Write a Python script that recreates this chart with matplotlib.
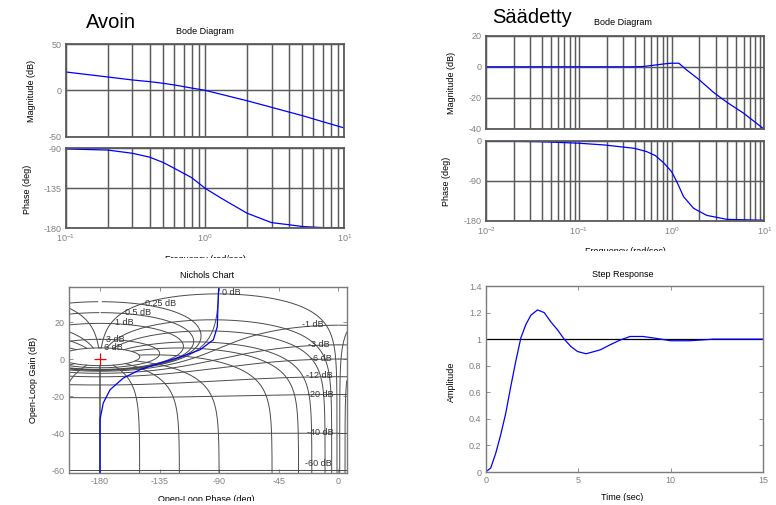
import numpy as np
import matplotlib
matplotlib.use('Agg')
import matplotlib.pyplot as plt
from matplotlib.patches import Rectangle
from matplotlib.ticker import NullFormatter

plt.rcParams['font.family'] = ['Liberation Sans', 'DejaVu Sans']
plt.rcParams['axes.unicode_minus'] = False

# --- open loop bode ---
w_open = [0.1, 0.2, 0.3, 0.4, 0.5, 0.6, 0.8, 1.0, 2.0, 3.0, 4.0, 5.0, 7.0, 10.0]
mag_open = [19.8, 14.4, 11.2, 9.4, 7.6, 5.8, 2.5, 0.0, -11.2, -18.3, -23.4, -27.3, -33.8, -40.6]
w_open_ph = [0.1, 0.2, 0.3, 0.4, 0.5, 0.6, 0.8, 1.0, 1.3, 2.0, 3.0, 4.0, 5.0, 7.0, 10.0]
phase_open = [-90.7, -92, -95.6, -100, -106, -112.5, -123, -135, -146, -163, -173.6, -176, -178, -179.2, -179.6]

# --- closed loop bode ---
w_cl = [0.01, 0.1, 0.4, 0.5, 0.7, 0.9, 1.0, 1.2, 1.46, 1.95, 2.83, 3.95, 5.97, 10.0]
mag_cl = [0, 0, 0, 0.2, 1.3, 2.1, 2.3, 2.3, -2.1, -7.9, -16.4, -22.8, -29.8, -40.2]
w_cl_ph = [0.01, 0.038, 0.1, 0.19, 0.4, 0.54, 0.67, 0.82, 1.0, 1.14, 1.35, 1.73, 2.4, 3.95, 10.0]
phase_cl = [0, -1.5, -5, -9, -16.6, -24, -33, -49, -69, -92, -126, -152, -168, -177, -179]

# --- nichols curve ---
nich_phase = [-180, -180, -177.5, -172.4, -162.4, -149.8, -134.7, -119.6, -104.5, -94.4, -91.4, -90.6, -90.3]
nich_gain = [-61, -32.6, -23.6, -16.5, -10.2, -5.7, -2.1, 1.1, 5.0, 10.4, 17.5, 35.4, 39]

# nichols grid levels
ngrid_gain_db = [6, 3, 1, 0.5, 0.25, 0, -1, -3, -6, -12, -20, -40, -60]
ngrid_phase = [1, 5, 10, 20, 30, 50, 90, 120, 150, 180]
ngrid_labels = ['6 dB', '3 dB', '1 dB', '0.5 dB', '0.25 dB', '0 dB', '-1 dB',
                '-3 dB', '-6 dB', '-12 dB', '-20 dB', '-40 dB', '-60 dB']

# --- step response ---
t_step = [0, 0.27, 0.54, 0.81, 1.08, 1.35, 1.62, 1.9, 2.17, 2.44, 2.8, 3.16, 3.52, 3.88, 4.24,
          4.6, 4.96, 5.42, 5.87, 6.2, 6.7, 7.26, 7.8, 8.5, 9.2, 10, 11, 11.8, 12.3, 15]
y_step = [0, 0.03, 0.14, 0.28, 0.44, 0.64, 0.83, 1.01, 1.11, 1.18, 1.22, 1.20, 1.13, 1.07, 1.0,
          0.945, 0.907, 0.89, 0.907, 0.92, 0.956, 0.993, 1.02, 1.02, 1.006, 0.988, 0.988, 0.995, 1.0, 1.0]
step_ticks = [0, 0.2, 0.4, 0.6, 0.8, 1.0, 1.2, 1.4]
step_ticklabels = ['0', '0.2', '0.4', '0.6', '0.8', '1', '1.2', '1.4']

W, H = 776, 505
fig = plt.figure(figsize=(W / 100, H / 100), dpi=100)

GRID = '#5a5a5a'
TICK = '#808080'
FS = 6.5


def box(l, t, r, b):
    # pixel box -> figure fraction
    return [l / W, 1 - b / H, (r - l) / W, (b - t) / H]


def ftext(x, y, s, **kw):
    return fig.text(x / W, 1 - y / H, s, **kw)


def blank(l, t, r, b):
    # white strip to mimic the cut off labels of the original
    fig.patches.append(Rectangle((l / W, 1 - b / H), (r - l) / W, (b - t) / H,
                                 transform=fig.transFigure, facecolor='white',
                                 edgecolor='none', zorder=5))


def bode_style(ax):
    ax.set_xscale('log')
    ax.grid(True, which='both', color=GRID, linewidth=1.05)
    ax.tick_params(which='both', length=0, labelsize=FS, colors=TICK, pad=3)
    ax.xaxis.set_minor_formatter(NullFormatter())
    for s in ax.spines.values():
        s.set_color(GRID)
        s.set_linewidth(1.3)


def box_style(ax, color='#7a7a7a'):
    ax.tick_params(direction='in', top=True, right=True, length=3, width=0.6,
                   labelsize=FS, colors=TICK, pad=3)
    for s in ax.spines.values():
        s.set_color(color)
        s.set_linewidth(1.0)


# ---------------- Avoin ----------------
ax1 = fig.add_axes(box(66, 44, 344.3, 136.7))
ax1.plot(w_open, mag_open, color='blue', lw=0.9)
ax1.set_xlim(0.1, 10)
ax1.set_ylim(-50, 50)
ax1.set_yticks([-50, 0, 50])
bode_style(ax1)
ax1.tick_params(labelbottom=False)

ax2 = fig.add_axes(box(66, 148.3, 344.3, 228.3))
ax2.plot(w_open_ph, phase_open, color='blue', lw=0.9)
ax2.set_xlim(0.1, 10)
ax2.set_ylim(-180, -90)
ax2.set_yticks([-180, -135, -90])
bode_style(ax2)

ftext(86, 28.3, 'Avoin', fontsize=14.5, va='baseline')
ftext(205, 34, 'Bode Diagram', fontsize=FS, ha='center', va='baseline')
ftext(32, 91, 'Magnitude (dB)', fontsize=FS, rotation=90, ha='center', va='center')
ftext(28, 189, 'Phase (deg)', fontsize=FS, rotation=90, ha='center', va='center')
ftext(205, 255, 'Frequency (rad/sec)', fontsize=FS, ha='center', va='top')

# ---------------- Saadetty ----------------
ax3 = fig.add_axes(box(486, 35.7, 764.3, 129))
ax3.plot(w_cl, mag_cl, color='blue', lw=0.9)
ax3.set_xlim(0.01, 10)
ax3.set_ylim(-40, 20)
ax3.set_yticks([-40, -20, 0, 20])
bode_style(ax3)
ax3.tick_params(labelbottom=False)

ax4 = fig.add_axes(box(486, 141, 764.3, 220.7))
ax4.plot(w_cl_ph, phase_cl, color='blue', lw=0.9)
ax4.set_xlim(0.01, 10)
ax4.set_ylim(-180, 0)
ax4.set_yticks([-180, -90, 0])
bode_style(ax4)

ftext(491.7, 23.3, 'Säädetty', fontsize=14.5, va='baseline')
ftext(623, 25.3, 'Bode Diagram', fontsize=FS, ha='center', va='baseline')
ftext(451, 83, 'Magnitude (dB)', fontsize=FS, rotation=90, ha='center', va='center')
ftext(447, 181, 'Phase (deg)', fontsize=FS, rotation=90, ha='center', va='center')
ftext(625, 247, 'Frequency (rad/sec)', fontsize=FS, ha='center', va='top')

blank(0, 258, 390, 266)
blank(390, 250.5, 776, 266)

# ---------------- Nichols ----------------
ax5 = fig.add_axes(box(69, 287.3, 346.7, 472.7))
gkw = dict(color='#4a4a4a', lw=0.7)

# constant closed-loop gain contours
th = np.deg2rad(np.linspace(-359.95, -0.05, 4000))
for mdb in ngrid_gain_db:
    T = 10 ** (mdb / 20) * np.exp(1j * th)
    L = T / (1 - T)
    ph = np.rad2deg(np.unwrap(np.angle(L)))
    mid = np.argmin(np.abs(th + np.pi))
    ph = ph - 360 * np.round((ph[mid] + 180) / 360)
    g = 20 * np.log10(np.abs(L))
    for k in (0, 360):
        ax5.plot(ph + k, g, **gkw)

# constant closed-loop phase contours, stopped at the 6 dB contour
m = np.logspace(-4, max(ngrid_gain_db) / 20, 4000)
for p in ngrid_phase:
    for phi in (-p, -360 + p):
        T = m * np.exp(1j * np.deg2rad(phi))
        L = T / (1 - T)
        ph = phi - np.rad2deg(np.angle(1 - T))
        g = 20 * np.log10(np.abs(L))
        for k in (0, 360):
            ax5.plot(ph + k, g, **gkw)

ngrid_pos = [(-177, 6.4), (-175.5, 10.7), (-168.7, 19.9), (-161.1, 25.2), (-146, 30),
             (-88.1, 36), (-27.7, 18.8), (-22.7, 7.7), (-21.4, 0.2), (-24.4, -8.6),
             (-23.9, -19.2), (-23.9, -39.6), (-25.2, -56.2)]
for txt, (px, py) in zip(ngrid_labels, ngrid_pos):
    ax5.text(px, py, txt, fontsize=FS, color='#333333', ha='left', va='center')

ax5.plot(nich_phase, nich_gain, color='blue', lw=0.9)
ax5.plot([-180], [0], marker='+', color='red', markersize=8, mew=0.9)
ax5.set_xlim(-203.4, 6.3)
ax5.set_ylim(-61.2, 38.7)
ax5.set_xticks([-180, -135, -90, -45, 0])
ax5.set_yticks([-60, -40, -20, 0, 20])
box_style(ax5)

ftext(207, 277.7, 'Nichols Chart', fontsize=FS, ha='center', va='baseline')
ftext(33, 380, 'Open-Loop Gain (dB)', fontsize=FS, rotation=90, ha='center', va='center')
ftext(206, 495, 'Open-Loop Phase (deg)', fontsize=FS, ha='center', va='top')

# ---------------- Step response ----------------
ax6 = fig.add_axes(box(485.7, 286, 763.3, 472))
ax6.plot([0, 15], [1, 1], color='black', lw=0.9)
ax6.plot(t_step, y_step, color='blue', lw=0.9)
ax6.set_xlim(0, 15)
ax6.set_ylim(0, 1.4)
ax6.set_xticks([0, 5, 10, 15])
ax6.set_yticks(step_ticks)
ax6.set_yticklabels(step_ticklabels)
box_style(ax6)

ftext(622.5, 276.7, 'Step Response', fontsize=FS, ha='center', va='baseline')
ftext(451, 382, 'Amplitude', fontsize=FS, rotation=90, ha='center', va='center')
ftext(622.5, 493.5, 'Time (sec)', fontsize=FS, ha='center', va='top')

blank(0, 500.5, 776, 505)

plt.savefig('out.png', dpi=100)
